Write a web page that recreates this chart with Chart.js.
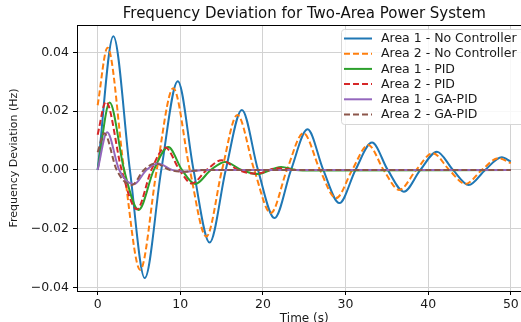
<!DOCTYPE html>
<html>
<head>
<meta charset="utf-8">
<script src="https://cdn.jsdelivr.net/npm/chart.js@4.4.1/dist/chart.umd.min.js"></script>
<style>
  html, body { margin: 0; padding: 0; background: #fff; overflow: hidden; width: 521px; height: 322px; }
  #wrap { position: absolute; left: 0; top: 0; width: 540px; height: 322px; }
</style>
</head>
<body>
<div id="wrap"><canvas id="freq-chart" width="540" height="322"></canvas></div>
<script>
const seriesLabels = [
  'Area 1 - No Controller',
  'Area 2 - No Controller',
  'Area 1 - PID',
  'Area 2 - PID',
  'Area 1 - GA-PID',
  'Area 2 - GA-PID'
];
const seriesColors = ['#1f77b4', '#ff7f0e', '#2ca02c', '#d62728', '#9467bd', '#8c564b'];
const seriesDashed = [false, true, false, true, false, true];

// time (s) / deviation (Hz)
const a1NoCtrlT = [0, 1.9, 3.9, 5.7, 7.7, 9.7, 11.6, 13.55, 15.5, 17.45, 19.4, 21.4, 23.4, 25.4, 27.3, 29.25, 31.2, 33.2, 35.1, 37.05, 39.05, 41.05, 43.0, 44.9, 46.9, 48.9, 50];
const a1NoCtrlF = [0, 0.0455, 0, -0.0368, 0, 0.0302, 0, -0.0247, 0, 0.0204, 0, -0.0164, 0, 0.0138, 0, -0.0113, 0, 0.0093, 0, -0.0074, 0, 0.0062, 0, -0.0051, 0, 0.0043, 0.0028];

const a2NoCtrlT = [0, 1.2, 3.2, 5.15, 7.15, 9.15, 11.15, 13.15, 15.05, 16.9, 18.95, 20.95, 22.9, 24.9, 26.9, 28.85, 30.8, 32.75, 34.6, 36.5, 38.55, 40.55, 42.55, 44.5, 46.5, 48.5, 50];
const a2NoCtrlF = [0.022, 0.0416, 0, -0.034, 0, 0.0278, 0, -0.0227, 0, 0.0187, 0, -0.0147, 0, 0.0125, 0, -0.0096, 0, 0.0085, 0, -0.0068, 0, 0.0057, 0, -0.0048, 0, 0.004, 0.0023];

const a1PidT = [0, 1.45, 3.2, 4.95, 6.8, 8.55, 10.2, 11.8, 13.7, 15.4, 17.4, 19.3, 22.2, 24.0, 26, 50];
const a1PidF = [0, 0.0229, 0, -0.0136, 0, 0.0078, 0, -0.0048, 0, 0.0027, 0, -0.0014, 0.0010, 0, -0.0002, 0];

const a2PidT = [0, 1.0, 2.9, 4.75, 6.5, 8.2, 9.9, 11.4, 13.2, 15.0, 17.0, 19.2, 21.8, 24, 50];
const a2PidF = [0.012, 0.0232, 0, -0.0134, 0, 0.0076, 0, -0.0046, 0, 0.0033, 0, -0.0013, 0.0006, 0, 0];

const a1GaPidT = [0, 1.15, 2.6, 4.4, 5.9, 7.3, 9.0, 10.5, 13, 50];
const a1GaPidF = [0, 0.0128, 0, -0.0049, 0, 0.0022, 0, -0.0006, 0, 0];

const a2GaPidT = [0, 0.8, 2.3, 4.1, 5.6, 7.0, 8.7, 10.3, 13, 50];
const a2GaPidF = [0.006, 0.0125, 0, -0.0052, 0, 0.0022, 0, -0.0006, 0, 0];

const xTicks = [0, 10, 20, 30, 40, 50];
const yTicks = [-0.04, -0.02, 0, 0.02, 0.04];
const yTickLabels = ['\u22120.04', '\u22120.02', '0.00', '0.02', '0.04'];

const seriesT = [a1NoCtrlT, a2NoCtrlT, a1PidT, a2PidT, a1GaPidT, a2GaPidT];
const seriesF = [a1NoCtrlF, a2NoCtrlF, a1PidF, a2PidF, a1GaPidF, a2GaPidF];

const FONT = "'DejaVu Sans', sans-serif";

const datasets = seriesLabels.map((label, i) => ({
  label: label,
  data: seriesT[i].map((t, k) => ({ x: t, y: seriesF[i][k] })),
  borderColor: seriesColors[i],
  borderWidth: 2,
  borderDash: seriesDashed[i] ? [6, 3] : [],
  pointRadius: 0,
  cubicInterpolationMode: 'monotone',
  fill: false,
  order: 5 - i
}));

// legend box drawn inside the plot, upper right (matplotlib style)
const legendBox = {
  id: 'legendBox',
  afterDraw(chart) {
    const ctx = chart.ctx;
    const x0 = 341, y0 = 29, w = 200, h = 95;
    ctx.save();
    ctx.fillStyle = 'rgba(255,255,255,0.85)';
    ctx.strokeStyle = '#d6d6d6';
    ctx.lineWidth = 1;
    ctx.beginPath();
    ctx.roundRect(x0 + 0.5, y0 + 0.5, w, h, 3);
    ctx.fill();
    ctx.stroke();
    ctx.font = '12.5px ' + FONT;
    ctx.textBaseline = 'middle';
    seriesLabels.forEach((label, i) => {
      const y = 38.5 + i * 15.2;
      ctx.strokeStyle = seriesColors[i];
      ctx.lineWidth = 2;
      ctx.setLineDash(seriesDashed[i] ? [6, 3] : []);
      ctx.beginPath();
      ctx.moveTo(344, y);
      ctx.lineTo(372, y);
      ctx.stroke();
      ctx.setLineDash([]);
      ctx.fillStyle = '#1a1a1a';
      ctx.fillText(label, 381, y + 0.5);
    });
    ctx.restore();
  }
};

// top spine (left and bottom come from the scale borders, right is outside the crop)
const frame = {
  id: 'frame',
  afterDatasetsDraw(chart) {
    const a = chart.chartArea;
    const ctx = chart.ctx;
    ctx.save();
    ctx.strokeStyle = '#000';
    ctx.lineWidth = 1;
    ctx.beginPath();
    ctx.moveTo(a.left, Math.round(a.top) + 0.5);
    ctx.lineTo(a.right, Math.round(a.top) + 0.5);
    ctx.stroke();
    ctx.restore();
  }
};

const ctx = document.getElementById('freq-chart').getContext('2d');

new Chart(ctx, {
  type: 'line',
  data: { datasets: datasets },
  options: {
    responsive: false,
    animation: false,
    devicePixelRatio: 1,
    layout: { padding: { left: 0, right: 8.5, top: 0, bottom: 0 } },
    plugins: {
      legend: { display: false },
      tooltip: { enabled: false },
      title: {
        display: true,
        fullSize: false,
        text: 'Frequency Deviation for Two-Area Power System',
        color: '#111',
        font: { family: FONT, size: 15, weight: 'normal', lineHeight: 1.2 },
        padding: { top: 5, bottom: 2 }
      }
    },
    scales: {
      x: {
        type: 'linear',
        min: -2.5,
        max: 52.5,
        afterBuildTicks: (s) => { s.ticks = xTicks.map(v => ({ value: v })); },
        afterFit: (s) => { s.height = 31; },
        grid: { color: '#d2d2d2', lineWidth: 1, tickLength: 4, tickColor: '#000' },
        border: { color: '#000', width: 1 },
        ticks: { color: '#1a1a1a', font: { family: FONT, size: 12.5 }, padding: 2, maxRotation: 0 },
        title: {
          display: true,
          text: 'Time (s)',
          color: '#1a1a1a',
          font: { family: FONT, size: 12, lineHeight: 1 },
          padding: { top: 0, bottom: -3 }
        }
      },
      y: {
        type: 'linear',
        min: -0.0412,
        max: 0.0493,
        afterBuildTicks: (s) => { s.ticks = yTicks.map(v => ({ value: v })); },
        afterFit: (s) => { s.width = 77; },
        grid: { color: '#d2d2d2', lineWidth: 1, tickLength: 4, tickColor: '#000' },
        border: { color: '#000', width: 1 },
        ticks: {
          color: '#1a1a1a',
          font: { family: FONT, size: 12.5 },
          padding: 4,
          callback: (v) => { const k = yTicks.indexOf(v); return k >= 0 ? yTickLabels[k] : ''; }
        },
        title: {
          display: true,
          text: 'Frequency Deviation (Hz)',
          color: '#1a1a1a',
          font: { family: FONT, size: 11, lineHeight: 1.2 },
          padding: { top: 8, bottom: 0 }
        }
      }
    }
  },
  plugins: [frame, legendBox]
});
</script>
</body>
</html>
